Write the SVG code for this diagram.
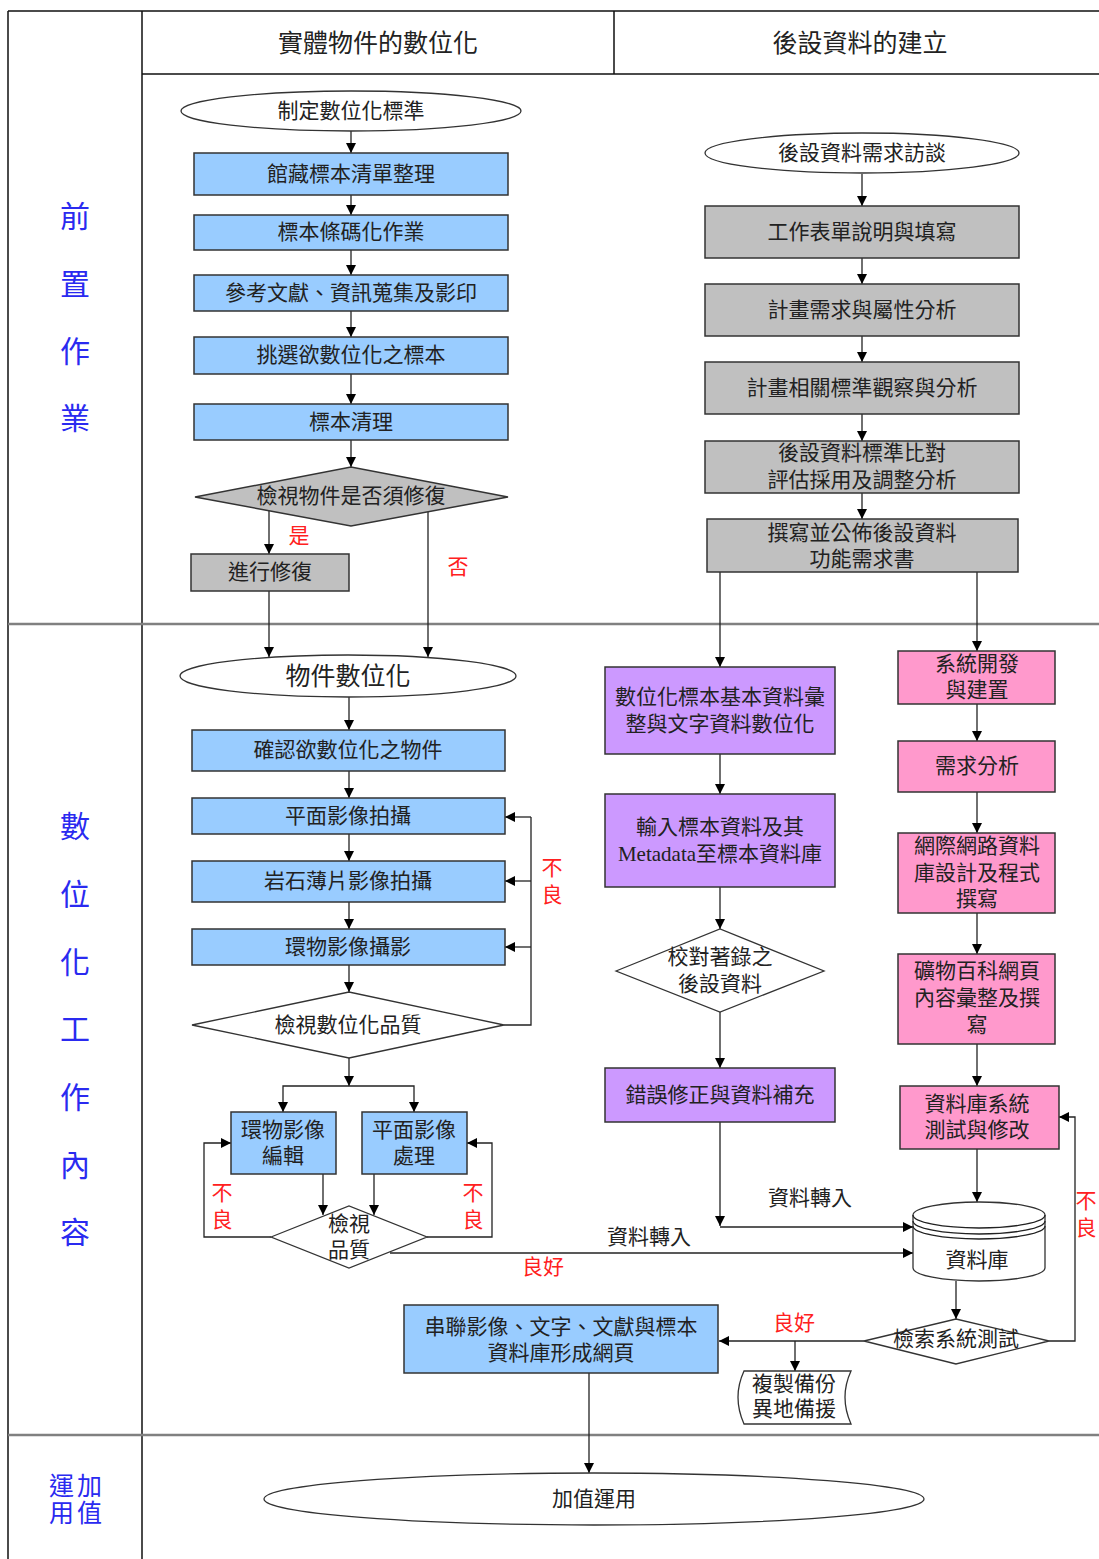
<svg xmlns="http://www.w3.org/2000/svg" width="1099" height="1559" viewBox="0 0 1099 1559">
<defs>
<marker id="ah" viewBox="0 0 10 10" refX="10" refY="5" markerWidth="10" markerHeight="10" markerUnits="userSpaceOnUse" orient="auto"><path d="M0,0 L10,5 L0,10 z" fill="#000"/></marker>
<style>
text{font-family:"Liberation Serif","Noto Sans CJK TC",serif;fill:#222;text-anchor:middle;dominant-baseline:central}
.t{font-size:21px}
.h{font-size:25px}
.lane{font-size:30px;fill:#2a2af0}
.lane2{font-size:25px;fill:#2a2af0;letter-spacing:3px}
.red{font-size:21px;fill:#ff2020}
.blue{fill:#99ccff;stroke:#333;stroke-width:1.5}
.gray{fill:#c0c0c0;stroke:#333;stroke-width:1.5}
.purple{fill:#cc99ff;stroke:#333;stroke-width:1.5}
.pink{fill:#ff99cc;stroke:#333;stroke-width:1.5}
.white{fill:#fff;stroke:#333;stroke-width:1.3}
.c{fill:none;stroke:#222;stroke-width:1.3}
.a{fill:none;stroke:#222;stroke-width:1.3;marker-end:url(#ah)}
.tbl{stroke:#111;stroke-width:1.5;fill:none}
.div{stroke:#808080;stroke-width:2.5;fill:none}
</style>
</defs>
<rect x="0" y="0" width="1099" height="1559" fill="#fff"/>

<g id="table">
<path class="tbl" d="M8,11 H1099 M8,11 V1559 M142,11 V1559 M142,74 H1099 M614,11 V74"/>
<path class="div" d="M8,624 H1099 M8,1435 H1099"/>
<text class="h" x="378" y="43">實體物件的數位化</text>
<text class="h" x="860" y="43">後設資料的建立</text>
</g>

<g id="lane-labels">
<text class="lane" x="75" y="216">前</text>
<text class="lane" x="75" y="284">置</text>
<text class="lane" x="75" y="351">作</text>
<text class="lane" x="75" y="418">業</text>
<text class="lane" x="75" y="826">數</text>
<text class="lane" x="75" y="894">位</text>
<text class="lane" x="75" y="962">化</text>
<text class="lane" x="75" y="1029">工</text>
<text class="lane" x="75" y="1097">作</text>
<text class="lane" x="75" y="1165">內</text>
<text class="lane" x="75" y="1232">容</text>
<text class="lane2" x="77" y="1486">運加</text>
<text class="lane2" x="77" y="1513">用值</text>
</g>

<g id="connectors">
<path class="a" d="M351,131 V153"/>
<path class="a" d="M351,195 V215"/>
<path class="a" d="M351,250 V275"/>
<path class="a" d="M351,311 V337"/>
<path class="a" d="M351,374 V404"/>
<path class="a" d="M351,440 V467"/>
<path class="a" d="M269,510 V554"/>
<path class="a" d="M269,591 V657"/>
<path class="a" d="M428,512 V657"/>
<path class="a" d="M349,697 V730"/>
<path class="a" d="M349,771 V798"/>
<path class="a" d="M349,834 V861"/>
<path class="a" d="M349,902 V929"/>
<path class="a" d="M349,965 V992"/>
<path class="c" d="M504,1025 H531 V817"/>
<path class="a" d="M531,817 H505"/>
<path class="a" d="M531,881 H505"/>
<path class="a" d="M531,947 H505"/>
<path class="a" d="M349,1058 V1086"/>
<path class="a" d="M349,1086 H283 V1112"/>
<path class="a" d="M349,1086 H414 V1112"/>
<path class="a" d="M323,1174 V1215"/>
<path class="a" d="M374,1174 V1215"/>
<path class="a" d="M271,1237 H204 V1143 H231"/>
<path class="a" d="M427,1237 H492 V1143 H467"/>
<path class="a" d="M390,1253 H913"/>
<path class="a" d="M862,174 V206"/>
<path class="a" d="M862,258 V284"/>
<path class="a" d="M862,336 V362"/>
<path class="a" d="M862,414 V441"/>
<path class="a" d="M862,493 V519"/>
<path class="a" d="M720,572 V667"/>
<path class="a" d="M977,572 V651"/>
<path class="a" d="M720,754 V794"/>
<path class="a" d="M720,887 V929"/>
<path class="a" d="M720,1012 V1068"/>
<path class="a" d="M720,1122 V1226"/>
<path class="a" d="M720,1227 H913"/>
<path class="a" d="M977,704 V741"/>
<path class="a" d="M977,792 V833"/>
<path class="a" d="M977,913 V954"/>
<path class="a" d="M977,1044 V1086"/>
<path class="a" d="M977,1149 V1202"/>
<path class="a" d="M956,1281 V1319"/>
<path class="a" d="M1049,1341 H1075 V1117 H1059"/>
<path class="a" d="M864,1341 H719"/>
<path class="a" d="M795,1341 V1371"/>
<path class="a" d="M589,1373 V1473"/>
<text class="red" x="299" y="536">是</text>
<text class="red" x="458" y="567">否</text>
<text class="red" x="552" y="868">不</text>
<text class="red" x="552" y="895">良</text>
<text class="red" x="222" y="1193">不</text>
<text class="red" x="222" y="1220">良</text>
<text class="red" x="473" y="1193">不</text>
<text class="red" x="473" y="1220">良</text>
<text class="t" x="649" y="1237">資料轉入</text>
<text class="red" x="543" y="1267">良好</text>
<text class="t" x="810" y="1198">資料轉入</text>
<text class="red" x="794" y="1323">良好</text>
<text class="red" x="1086" y="1201">不</text>
<text class="red" x="1086" y="1228">良</text>
</g>

<g id="n-standard"><ellipse class="white" cx="351" cy="111" rx="170" ry="20"/><text class="t" x="351" y="111">制定數位化標準</text></g>
<g id="n-list"><rect class="blue" x="194" y="153" width="314" height="42"/><text class="t" x="351" y="174">館藏標本清單整理</text></g>
<g id="n-barcode"><rect class="blue" x="194" y="215" width="314" height="35"/><text class="t" x="351" y="232">標本條碼化作業</text></g>
<g id="n-ref"><rect class="blue" x="194" y="275" width="314" height="36"/><text class="t" x="351" y="293">參考文獻、資訊蒐集及影印</text></g>
<g id="n-select"><rect class="blue" x="194" y="337" width="314" height="37"/><text class="t" x="351" y="355">挑選欲數位化之標本</text></g>
<g id="n-clean"><rect class="blue" x="194" y="404" width="314" height="36"/><text class="t" x="351" y="422">標本清理</text></g>
<g id="n-check-repair"><polygon class="gray" points="195,497 351,467 508,497 351,526"/><text class="t" x="351" y="496">檢視物件是否須修復</text></g>
<g id="n-repair"><rect class="gray" x="191" y="554" width="158" height="37"/><text class="t" x="270" y="572">進行修復</text></g>

<g id="n-digitize"><ellipse class="white" cx="348" cy="676" rx="168" ry="21"/><text class="h" x="348" y="676">物件數位化</text></g>
<g id="n-confirm"><rect class="blue" x="192" y="730" width="313" height="41"/><text class="t" x="348" y="750">確認欲數位化之物件</text></g>
<g id="n-flat"><rect class="blue" x="192" y="798" width="313" height="36"/><text class="t" x="348" y="816">平面影像拍攝</text></g>
<g id="n-thin"><rect class="blue" x="192" y="861" width="313" height="41"/><text class="t" x="348" y="881">岩石薄片影像拍攝</text></g>
<g id="n-ring"><rect class="blue" x="192" y="929" width="313" height="36"/><text class="t" x="348" y="947">環物影像攝影</text></g>
<g id="n-quality"><polygon class="white" points="192,1025 349,992 504,1025 349,1058"/><text class="t" x="348" y="1025">檢視數位化品質</text></g>
<g id="n-ring-edit"><rect class="blue" x="231" y="1112" width="105" height="62"/><text class="t" x="283" y="1130">環物影像</text><text class="t" x="283" y="1156">編輯</text></g>
<g id="n-flat-proc"><rect class="blue" x="362" y="1112" width="105" height="62"/><text class="t" x="414" y="1130">平面影像</text><text class="t" x="414" y="1156">處理</text></g>
<g id="n-quality2"><polygon class="white" points="271,1237 349,1206 427,1237 349,1268"/><text class="t" x="349" y="1224">檢視</text><text class="t" x="349" y="1250">品質</text></g>

<g id="n-interview"><ellipse class="white" cx="862" cy="153" rx="157" ry="20"/><text class="t" x="862" y="153">後設資料需求訪談</text></g>
<g id="n-form"><rect class="gray" x="705" y="206" width="314" height="52"/><text class="t" x="862" y="232">工作表單說明與填寫</text></g>
<g id="n-plan"><rect class="gray" x="705" y="284" width="314" height="52"/><text class="t" x="862" y="310">計畫需求與屬性分析</text></g>
<g id="n-std-obs"><rect class="gray" x="705" y="362" width="314" height="52"/><text class="t" x="862" y="388">計畫相關標準觀察與分析</text></g>
<g id="n-std-cmp"><rect class="gray" x="705" y="441" width="314" height="52"/><text class="t" x="862" y="453">後設資料標準比對</text><text class="t" x="862" y="480">評估採用及調整分析</text></g>
<g id="n-spec"><rect class="gray" x="707" y="519" width="311" height="53"/><text class="t" x="862" y="533">撰寫並公佈後設資料</text><text class="t" x="862" y="559">功能需求書</text></g>

<g id="n-basic"><rect class="purple" x="605" y="667" width="230" height="87"/><text class="t" x="720" y="697">數位化標本基本資料彙</text><text class="t" x="720" y="724">整與文字資料數位化</text></g>
<g id="n-input"><rect class="purple" x="605" y="794" width="230" height="93"/><text class="t" x="720" y="827">輸入標本資料及其</text><text class="t" x="720" y="854">Metadata至標本資料庫</text></g>
<g id="n-proof"><polygon class="white" points="616,971 720,929 824,971 720,1012"/><text class="t" x="720" y="957">校對著錄之</text><text class="t" x="720" y="984">後設資料</text></g>
<g id="n-fix"><rect class="purple" x="605" y="1068" width="230" height="54"/><text class="t" x="720" y="1095">錯誤修正與資料補充</text></g>

<g id="n-sysdev"><rect class="pink" x="898" y="651" width="157" height="53"/><text class="t" x="977" y="664">系統開發</text><text class="t" x="977" y="690">與建置</text></g>
<g id="n-req"><rect class="pink" x="898" y="741" width="157" height="51"/><text class="t" x="977" y="766">需求分析</text></g>
<g id="n-dbdesign"><rect class="pink" x="898" y="833" width="157" height="80"/><text class="t" x="977" y="846">網際網路資料</text><text class="t" x="977" y="873">庫設計及程式</text><text class="t" x="977" y="899">撰寫</text></g>
<g id="n-web"><rect class="pink" x="898" y="954" width="157" height="90"/><text class="t" x="977" y="971">礦物百科網頁</text><text class="t" x="977" y="998">內容彙整及撰</text><text class="t" x="977" y="1025">寫</text></g>
<g id="n-dbtest"><rect class="pink" x="900" y="1086" width="159" height="63"/><text class="t" x="977" y="1104">資料庫系統</text><text class="t" x="977" y="1130">測試與修改</text></g>

<g id="n-database">
<path class="white" d="M913,1215 A66,13 0 0 1 1045,1215 V1268 A66,13 0 0 1 913,1268 Z"/>
<path class="c" d="M913,1215 A66,13 0 0 0 1045,1215 M913,1221 A66,13 0 0 0 1045,1221 M913,1226 A66,13 0 0 0 1045,1226"/>
<text class="t" x="977" y="1260">資料庫</text>
</g>
<g id="n-search"><polygon class="white" points="864,1341 956,1319 1049,1341 956,1364"/><text class="t" x="956" y="1339">檢索系統測試</text></g>
<g id="n-backup"><path class="white" d="M744,1371 L851,1371 Q839,1397 851,1424 L744,1424 Q732,1397 744,1371 Z"/><text class="t" x="794" y="1384">複製備份</text><text class="t" x="794" y="1409">異地備援</text></g>
<g id="n-webpage"><rect class="blue" x="404" y="1305" width="314" height="68"/><text class="t" x="561" y="1327">串聯影像、文字、文獻與標本</text><text class="t" x="561" y="1353">資料庫形成網頁</text></g>
<g id="n-value"><ellipse class="white" cx="594" cy="1499" rx="330" ry="26"/><text class="t" x="594" y="1499">加值運用</text></g>
</svg>
